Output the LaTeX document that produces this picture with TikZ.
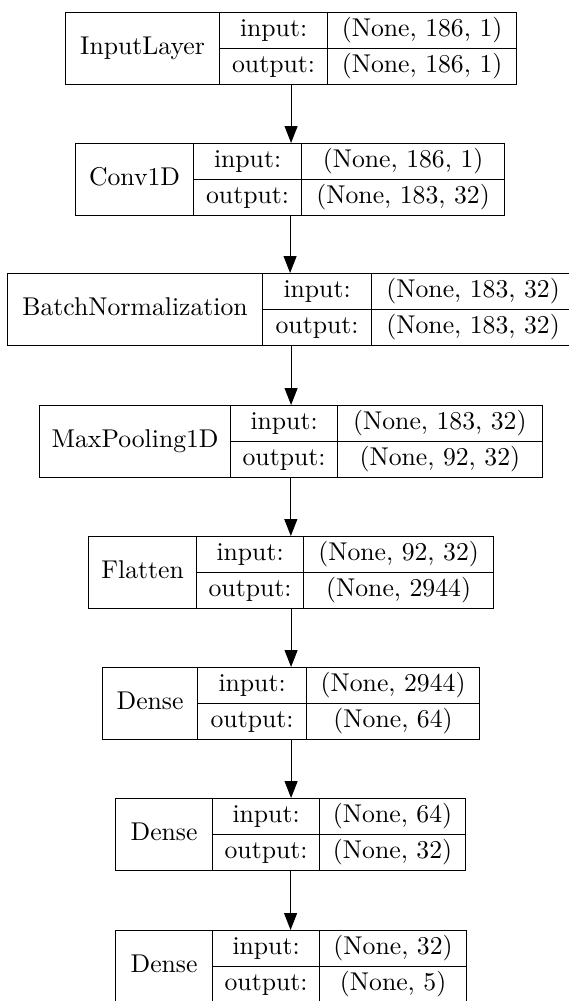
\documentclass[tikz,border=0pt]{standalone}
\usepackage{fontspec}
% the 10pt design of Latin Modern Roman, used at every size
\setmainfont[Extension=.otf]{lmroman10-regular}
\usetikzlibrary{arrows.meta}

% One layer: frame, name cell, and the input/output shape table.
% #1 name, #2 top, #3 left, #4 first divider, #5 second divider, #6 right,
% #7 layer type, #8 input shape, #9 output shape
\newcommand\layerbox[9]{%
  \node[frame, minimum width={(#6-#3)*1pt}, minimum height=72pt] (#1) at (#3,#2) {};
  \node[cell, minimum width={(#4-#3)*1pt}, minimum height=72pt] (#1-type) at (#3,#2) {#7};
  \node[cell, minimum width={(#5-#4)*1pt}, minimum height=36pt] (#1-inkey) at (#4,#2) {input:};
  \node[cell, minimum width={(#5-#4)*1pt}, minimum height=36pt] (#1-outkey) at ({#4},{#2+36}) {output:};
  \node[cell, minimum width={(#6-#5)*1pt}, minimum height=36pt] (#1-inval) at (#5,#2) {#8};
  \node[cell, minimum width={(#6-#5)*1pt}, minimum height=36pt] (#1-outval) at ({#5},{#2+36}) {#9};
}

\begin{document}
\begin{tikzpicture}[x=1pt, y=-1pt,
  font=\fontsize{25.7}{28}\selectfont,
  frame/.style={draw=black, line width=1.15pt, inner sep=0pt, anchor=north west},
  cell/.style={draw=black, line width=1.15pt, inner sep=0pt, anchor=north west,
               text height=15pt, text depth=3pt},
  link/.style={-{Triangle[length=17pt, width=13pt]}, line width=1.15pt}]
  \useasboundingbox[fill=white] (0,0) rectangle (569,1001);
  \clip (0,0) rectangle (569,1001);

  \layerbox{b1}{12}{65}{219}{327}{516}{InputLayer}{(None, 186, 1)}{(None, 186, 1)}
  \layerbox{b2}{143}{75}{193}{301}{504}{Conv1D}{(None, 186, 1)}{(None, 183, 32)}
  \layerbox{b3}{273}{7}{262}{371}{574}{BatchNormalization}{(None, 183, 32)}{(None, 183, 32)}
  \layerbox{b4}{405}{39}{230}{337}{541.5}{MaxPooling1D}{(None, 183, 32)}{(None, 92, 32)}
  \layerbox{b5}{536}{88}{196}{303}{493}{Flatten}{(None, 92, 32)}{(None, 2944)}
  \layerbox{b6}{667}{102}{197}{306}{479}{Dense}{(None, 2944)}{(None, 64)}
  \layerbox{b7}{798}{115}{212}{319}{465}{Dense}{(None, 64)}{(None, 32)}
  \layerbox{b8}{930}{115}{212}{319}{466}{Dense}{(None, 32)}{(None, 5)}

  % connectors run straight down from each layer to the next
  \foreach \a/\b in {b1/b2, b2/b3, b3/b4, b4/b5, b5/b6, b6/b7, b7/b8}
    \draw[link] (\a.south) -- (\a.south |- \b.north);
\end{tikzpicture}
\end{document}
